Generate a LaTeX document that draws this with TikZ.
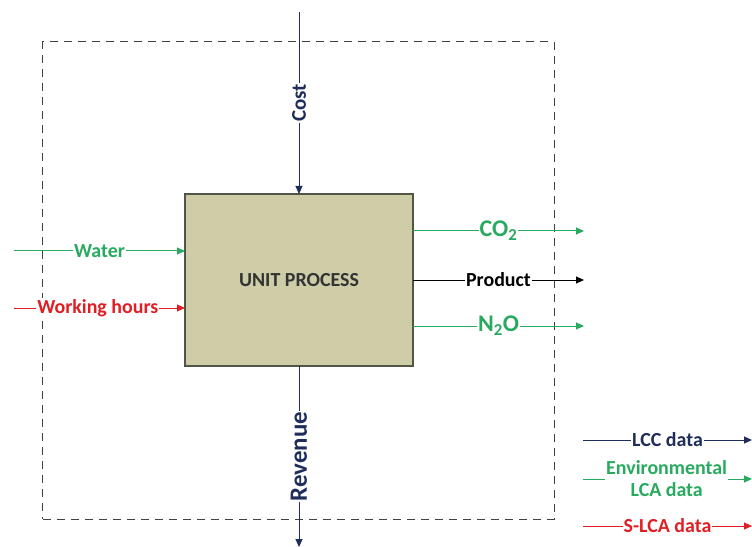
\documentclass[tikz,border=0pt]{standalone}
\usepackage{fontspec}
\setmainfont{Carlito}
\usetikzlibrary{arrows.meta}
\definecolor{navy}{RGB}{31,45,90}
\definecolor{grn}{RGB}{40,170,95}
\definecolor{rd}{RGB}{225,30,35}
\definecolor{boxfill}{RGB}{206,205,168}
\definecolor{boxline}{RGB}{80,85,70}
\tikzset{
  flow/.style={line width=1bp,-{Triangle[length=8bp,width=7bp]}},
  lbl/.style={fill=white,inner sep=1bp,font=\bfseries\fontsize{20}{22}\selectfont},
}
\begin{document}
\begin{tikzpicture}[x=1bp,y=-1bp]
\useasboundingbox (0,0) rectangle (752,547);
% boundary
\node[draw=black!75,dash pattern=on 8bp off 6bp,line width=1bp,minimum width=511bp,minimum height=477bp,inner sep=0] (sys) at (298.5,280.5) {};
% unit process
\node[draw=boxline,fill=boxfill,line width=1.2bp,minimum width=228bp,minimum height=172bp,inner sep=0,font=\bfseries\fontsize{20}{22}\selectfont,text=black!80] (up) at (299,280) {UNIT PROCESS};
% coordinates
\coordinate (costS) at (299,12);
\coordinate (costE) at (299,194);
\coordinate (revS) at (299,366);
\coordinate (revE) at (299,547);
\coordinate (waS) at (14,251);
\coordinate (waE) at (185,251);
\coordinate (whS) at (14,308);
\coordinate (whE) at (185,308);
\coordinate (coS) at (413,231);
\coordinate (coE) at (584,231);
\coordinate (prS) at (413,280);
\coordinate (prE) at (584,280);
\coordinate (noS) at (413,326);
\coordinate (noE) at (584,326);
\coordinate (l1S) at (583,440);
\coordinate (l1E) at (752,440);
\coordinate (l2S) at (583,479);
\coordinate (l2E) at (752,479);
\coordinate (l3S) at (583,526);
\coordinate (l3E) at (752,526);
% flows
\draw[flow,navy] (costS) -- node[lbl,text=navy,rotate=90,font=\bfseries\fontsize{21}{23}\selectfont] (costL) {Cost} (costE);
\draw[flow,navy] (revS) -- node[lbl,text=navy,rotate=90,font=\bfseries\fontsize{25}{27}\selectfont] (revL) {Revenue} (revE);
\draw[flow,grn] (waS) -- node[lbl,text=grn] (waL) {Water} (waE);
\draw[flow,rd] (whS) -- node[lbl,text=rd,pos=0.49] (whL) {Working hours} (whE);
\draw[flow,grn] (coS) -- node[lbl,text=grn,font=\bfseries\fontsize{24}{26}\selectfont] (coL) {CO\textsubscript{2}} (coE);
\draw[flow,black] (prS) -- node[lbl,text=black] (prL) {Product} (prE);
\draw[flow,grn] (noS) -- node[lbl,text=grn,font=\bfseries\fontsize{24}{26}\selectfont] (noL) {N\textsubscript{2}O} (noE);
% legend
\draw[flow,navy] (l1S) -- node[lbl,text=navy] (l1L) {LCC data} (l1E);
\draw[flow,grn] (l2S) -- node[lbl,text=grn,align=center,pos=0.495] (l2L) {Environmental\\LCA data} (l2E);
\draw[flow,rd] (l3S) -- node[lbl,text=rd] (l3L) {S-LCA data} (l3E);
\end{tikzpicture}
\end{document}
